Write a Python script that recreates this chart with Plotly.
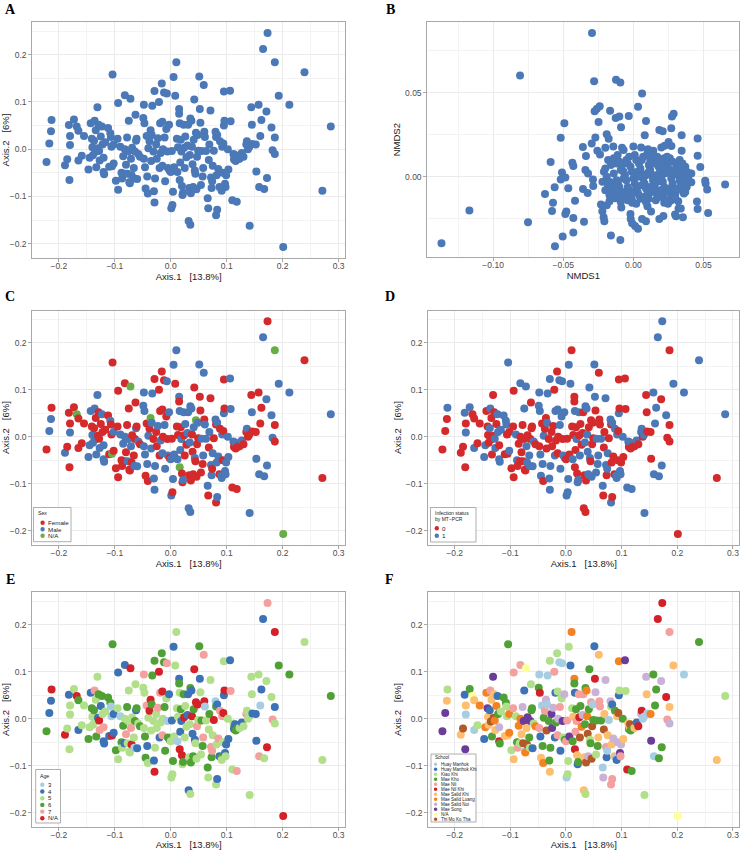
import plotly.graph_objects as go

W, H = 741, 850
FONT = "Liberation Sans, Arial, sans-serif"

# ---------------- PCoA coordinates (panels A, C, D, E, F) ----------------
pc1 = [-0.222,-0.217,-0.214,-0.213,-0.189,-0.185,-0.181,-0.182,-0.180,-0.180,
       -0.173,-0.168,-0.165,-0.165,-0.159,-0.155,-0.147,-0.145,-0.143,-0.141,
       -0.140,-0.139,-0.137,-0.136,-0.135,-0.134,-0.133,-0.131,-0.130,-0.129,
       -0.128,-0.127,-0.125,-0.123,-0.122,-0.120,-0.120,-0.119,-0.117,-0.112,
       -0.110,-0.108,-0.107,-0.106,-0.105,-0.104,-0.102,-0.102,-0.098,-0.095,
       -0.094,-0.094,-0.090,-0.088,-0.087,-0.085,-0.083,-0.082,-0.082,-0.080,
       -0.078,-0.077,-0.076,-0.075,-0.074,-0.073,-0.072,-0.071,-0.070,-0.069,
       -0.066,-0.065,-0.064,-0.063,-0.062,-0.061,-0.060,-0.058,-0.055,-0.049,
       -0.048,-0.048,-0.047,-0.046,-0.045,-0.043,-0.042,-0.041,-0.040,-0.038,
       -0.036,-0.035,-0.034,-0.033,-0.031,-0.030,-0.029,-0.029,-0.028,-0.026,
       -0.025,-0.023,-0.021,-0.020,-0.019,-0.018,-0.016,-0.015,-0.015,-0.014,
       -0.012,-0.011,-0.010,-0.008,-0.007,-0.006,-0.005,-0.003,-0.002,0.000,
       0.001,0.002,0.003,0.005,0.004,0.006,0.008,0.010,0.011,0.012,
       0.013,0.015,0.015,0.016,0.016,0.017,0.018,0.019,0.020,0.021,
       0.022,0.023,0.024,0.025,0.026,0.028,0.030,0.031,0.032,0.033,
       0.034,0.035,0.035,0.036,0.037,0.038,0.039,0.040,0.041,0.042,
       0.043,0.044,0.045,0.046,0.047,0.048,0.049,0.051,0.052,0.053,
       0.054,0.055,0.057,0.058,0.059,0.060,0.061,0.063,0.066,0.067,
       0.068,0.069,0.071,0.072,0.073,0.074,0.075,0.077,0.080,0.081,
       0.081,0.082,0.083,0.083,0.085,0.087,0.088,0.090,0.091,0.092,
       0.093,0.094,0.095,0.095,0.096,0.097,0.098,0.099,0.102,0.103,
       0.106,0.107,0.110,0.112,0.113,0.114,0.115,0.116,0.118,0.120,
       0.123,0.127,0.130,0.135,0.136,0.138,0.140,0.141,0.144,0.145,
       0.146,0.152,0.153,0.157,0.158,0.160,0.162,0.165,0.167,0.171,
       0.172,0.173,0.180,0.182,0.186,0.186,0.186,0.193,0.201,0.212,
       0.239,0.271,0.286]

pc2 = [-0.027,0.012,0.038,0.062,-0.034,-0.021,-0.065,0.051,0.009,0.028,
       0.063,0.048,0.039,-0.024,-0.014,0.028,-0.043,-0.018,0.055,0.022,
       0.004,-0.013,0.018,0.060,-0.006,0.040,-0.038,0.089,0.002,0.052,
       -0.004,-0.024,0.027,0.048,0.010,-0.018,-0.048,-0.053,0.015,0.045,
       -0.037,0.034,0.026,0.005,-0.036,0.158,0.010,-0.030,-0.067,0.022,
       0.098,-0.086,0.005,-0.050,-0.062,-0.015,-0.052,0.114,0.000,-0.033,
       0.025,-0.052,-0.005,0.060,-0.070,-0.072,0.107,-0.020,-0.055,0.003,
       -0.040,-0.062,-0.005,0.073,0.018,0.022,-0.063,-0.010,-0.016,0.066,
       0.094,-0.020,0.055,-0.038,-0.083,0.028,-0.058,-0.094,0.002,0.017,
       0.040,-0.025,0.030,0.092,-0.005,-0.089,0.123,-0.113,-0.062,0.010,
       -0.020,0.023,0.100,-0.040,0.055,-0.008,0.139,0.058,-0.035,0.000,
       0.120,0.025,-0.068,0.043,0.118,-0.005,-0.040,0.052,-0.045,-0.048,
       -0.125,-0.004,-0.118,0.153,-0.090,-0.038,0.113,0.184,0.022,-0.048,
       0.004,0.085,0.075,0.055,-0.065,-0.028,0.020,-0.005,-0.078,-0.097,
       -0.092,0.052,0.003,-0.040,0.027,-0.017,0.008,0.052,-0.152,-0.082,
       -0.012,0.065,-0.160,-0.093,0.060,0.005,-0.032,-0.080,0.020,0.105,
       -0.045,-0.052,0.035,-0.085,-0.016,0.030,-0.003,0.154,0.085,0.056,
       -0.076,-0.004,-0.058,-0.040,0.136,0.037,0.026,-0.004,-0.104,-0.125,
       -0.023,0.010,0.082,-0.060,-0.082,-0.068,-0.035,-0.003,0.037,0.026,
       -0.140,-0.055,0.030,-0.128,-0.042,-0.080,0.017,-0.083,-0.088,0.005,
       -0.050,0.012,0.122,0.050,0.060,-0.073,-0.080,-0.055,0.000,-0.043,
       0.124,0.059,-0.108,-0.010,-0.022,-0.017,-0.012,-0.025,-0.111,-0.021,
       -0.020,-0.008,-0.016,0.010,0.017,0.000,0.004,-0.162,0.089,0.052,
       0.011,0.010,-0.047,0.094,-0.080,0.028,0.062,0.212,-0.084,0.080,
       -0.061,0.246,0.046,-0.002,0.184,0.025,-0.010,0.113,-0.207,0.094,
       0.163,-0.088,0.048]

sex = ("F M M F M F F F M F  F N F F F F M M M F  M M F M M F M M F F  "
       "F M F M F M M M F F  F M F F N F M F F F  F F M F F M F F M F  "
       "F M M F F F N M F F  F M F F M F M M F M  M M M M F F M F M F  "
       "N M M M F M F M M F  F M F F F M F F M F  F M M F M F M M F M  "
       "M F F M M M F M F M  F M F M N M F M F F  M M F F M F M M M F  "
       "M M M F M F F F M F  M F N F F M F M F F  F M F M M F M M M F  "
       "F M F M M F M F M F  F M M M M F F M M M  F F F M F M M M M M  "
       "M M F M F F M F F F  F M F F M F F M F M  F F M F M F F M M M  "
       "M F M M N F F M N M  F F M").split()

infection = ("0 0 0 1 0 0 0 1 1 0  1 0 0 1 0 0 1 1 0 0  0 0 1 1 0 0 0 0 0 0  "
             "1 1 0 1 1 0 1 1 1 1  0 1 1 0 0 1 0 1 0 0  0 0 1 1 0 0 0 1 0 0  "
             "0 0 0 1 0 0 1 1 1 0  1 1 0 0 0 0 1 1 0 1  1 0 1 1 1 0 1 0 1 0  "
             "0 0 1 1 0 1 1 1 1 0  0 0 0 1 1 0 0 1 0 0  1 1 1 1 1 0 1 1 1 0  "
             "1 0 1 1 1 0 1 0 0 1  0 0 0 1 0 0 0 1 0 1  1 1 0 1 0 0 0 0 0 0  "
             "1 1 0 0 1 1 1 1 0 1  1 0 0 1 0 0 0 1 1 0  1 1 1 1 0 0 0 1 1 0  "
             "0 0 1 1 0 1 1 0 1 0  1 0 1 0 0 0 1 1 1 1  0 0 0 1 0 1 1 0 1 0  "
             "0 0 1 1 0 0 1 0 1 0  0 1 0 1 1 0 1 1 0 0  0 0 0 1 1 1 1 1 1 0  "
             "1 1 1 0 0 0 0 1 0 1  1 0 1").split()

age = ("6 4 4 NA NA 5 5 4 5 5  5 NA 6 4 5 5 6 5 4 6  5 5 6 7 5 5 6 5 4 6  "
       "NA 7 4 6 5 7 4 4 5 6  4 6 3 3 NA 6 4 4 6 5  4 5 3 6 5 6 4 4 5 7  "
       "6 5 5 5 5 5 NA 7 NA 5  5 3 6 5 4 6 4 5 6 5  7 5 5 6 6 7 4 5 5 NA  "
       "NA 5 6 6 5 4 6 NA 5 5  5 7 NA 4 7 5 6 NA 7 5  6 6 6 5 7 3 6 4 6 5  "
       "5 4 5 4 6 5 5 5 5 3  5 4 6 5 NA 4 6 4 NA 5  6 6 NA 5 5 5 4 4 4 5  "
       "5 6 5 6 4 NA 4 6 6 NA  4 5 NA 5 7 NA 5 6 4 5  5 6 6 7 7 NA 3 5 6 5  "
       "5 6 5 7 6 7 5 NA 3 6  5 5 4 4 7 4 7 6 5 7  5 NA 5 4 NA 4 5 4 5 4  "
       "4 7 5 5 4 4 4 6 7 6  5 4 5 7 5 5 5 5 5 5  4 4 4 5 7 3 4 4 5 5  "
       "NA 7 5 7 NA 4 5 6 NA 6  5 5 6").split()

school = ("MS MS MSK KK MSK TMK MS HMK HM MSK  MK NA MSK HM KK MSL HMK MSL MSL MS  "
          "MSK MSK HMK MN TMK MSK MK MS TMK MSK  MSL MSK MSL HMK MK MSN MNK MK KK MK  "
          "MSK MK KK KK MSK MK MSL MSL KK MN  MN MSK KK MK MN MSL KK MN MSL MSK  "
          "MSN TMK MS HMK HM MSL NA MSK TMK MS  MK KK MS KK MK MK HMK KK MSL MK  "
          "HM MN MNK HMK MSK HM MK MSL MK MN  MSN TMK HM HM MK MK KK MSK MK MS  "
          "MS MSN MN HMK HMK MK KK KK MN MSN  HM MN HMK KK HM MS KK MSN MK MN  "
          "HM MN KK KK KK MS HMK MSL KK MK  MSK MSL MK HMK MNK MN MK MN MSK HMK  "
          "MK MN MNK TMK MK MSL MSN MN MSK MSK  MK MK KK TMK MSL MSL TMK MSN MK MK  "
          "KK MK MN TMK TMK HM MK HMK MNK MSN  KK MK MK MSK MSK MN MN MK HM MSN  "
          "TMK MSK MSN MN HMK HM MSK HM MSN KK  MN MSK HMK MN MSN MSK MK HM HMK MSK  "
          "MSN TMK MSL HMK KK MS MN MSN MK MSK  MS KK MNK MSK MK MSK TMK MK MK MK  "
          "MSK HMK MNK MSN MNK HM HM KK MSN MSK  HM MSL MS MK HM MK MK MNK MK MSN  "
          "MK MNK MNK MN MN MSK MSN MSK NA HM  MK MSK KK").split()

# ---------------- NMDS coordinates (panel B) ----------------
nmds1 = [-0.0295,-0.0808,-0.028,-0.0124,-0.0093,0.0062,0.0033,-0.024,-0.026,-0.0276,
         -0.0166,-0.0248,-0.0126,-0.010,-0.0033,-0.0088,0.009,0.0287,0.0275,0.027,
         -0.0492,-0.0518,-0.0271,0.0081,0.0185,0.0209,0.0344,0.0458,-0.019,-0.0176,
         -0.0297,-0.036,-0.0338,-0.0257,-0.0238,-0.020,-0.0143,-0.0081,-0.007,-0.0112,
         0.000,0.0055,0.0104,0.0142,0.0199,0.0223,0.0251,0.0271,0.0344,0.0458,
         -0.059,-0.0435,-0.0428,-0.0342,-0.0323,-0.0509,-0.0518,-0.0485,-0.0561,-0.0464,
         -0.063,-0.0573,-0.058,-0.0478,-0.0485,-0.0416,-0.0428,-0.0352,-0.0359,-0.0326,
         -0.0288,-0.0286,-0.0231,-0.0221,-0.0212,-0.0207,-0.0428,-0.0504,-0.0559,-0.016,
         -0.0093,-0.1368,-0.1169,-0.0751,0.0654,0.0533,0.0526,0.0512,0.0515,0.0453,
         0.0458,0.0304,0.0297,0.0353,0.0322,0.0338,0.0214,0.0185,0.009,0.0062,
         0.0033,0.0012,-0.0009,-0.0019,-0.0021,0.0126,0.010,0.0247,0.022,0.0268,
         0.0320,-0.019,-0.017,-0.0086,-0.013,-0.0009,0.0413,0.0477,0.0413,
         -0.021,-0.019,-0.017,-0.015,-0.014,-0.012,-0.011,-0.010,-0.008,-0.007,
         -0.006,-0.005,-0.004,-0.003,-0.002,-0.001,0.000,0.001,0.002,0.003,
         0.004,0.005,0.006,0.007,0.008,0.009,0.010,0.011,0.012,0.013,
         0.014,0.015,0.016,0.017,0.018,0.019,0.020,0.021,0.022,0.023,
         0.024,0.025,0.026,0.027,0.028,0.029,0.030,0.031,0.032,0.033,
         0.034,0.035,0.036,0.037,0.038,0.026,0.031,-0.005,-0.003,0.002,
         0.007,0.012,0.017,0.022,-0.012,-0.008,-0.016,-0.020,-0.017,-0.013,
         -0.008,-0.002,0.005,0.011,0.016,0.021,0.027,-0.022,-0.009,0.015,
         0.009,0.003,-0.001,0.019,0.029,0.034,0.036,0.039,0.013,0.006,
         -0.018,-0.014,-0.010,-0.004,0.001,0.006,0.010,0.014,0.019,0.024,
         0.028,0.033,0.037,0.040,-0.020,-0.018,-0.015,-0.011,-0.006,-0.001,
         0.004,0.008,0.012,0.017,0.022,0.027,0.032,0.037,0.030,0.024,
         0.018,0.009,0.002,-0.004,-0.009,-0.013,-0.007,0.003,0.011,0.016,
         0.021,0.026,0.033,0.038,0.035]

nmds2 = [0.0857,0.0604,0.057,0.0578,0.0562,0.0496,0.0418,0.042,0.0406,0.039,
         0.0394,0.0327,0.035,0.036,0.0363,0.0295,0.0333,0.0376,0.036,0.029,
         0.0319,0.0233,0.0235,0.0247,0.0279,0.0271,0.0247,0.0229,0.0253,0.0227,
         0.0199,0.0177,0.0124,0.0155,0.0133,0.0173,0.0181,0.0173,0.016,0.013,
         0.0181,0.0175,0.0165,0.0155,0.0175,0.0185,0.0207,0.0183,0.0155,0.0125,
         0.0088,0.0084,0.0064,0.004,0.002,0.0026,-0.0016,-0.0004,-0.0062,-0.0068,
         -0.0102,-0.0155,-0.0203,-0.0207,-0.0221,-0.0143,-0.0245,-0.0267,-0.0072,-0.0096,
         -0.0016,-0.0054,-0.0165,-0.0205,-0.0241,-0.0265,-0.0331,-0.0355,-0.0414,-0.0349,
         -0.0376,-0.0396,-0.0201,-0.0271,-0.0046,-0.0215,-0.0076,-0.0024,-0.004,-0.0147,
         -0.0191,-0.0235,-0.0224,-0.0241,-0.0189,-0.0189,-0.0233,-0.0251,-0.0265,-0.0251,
         -0.0309,-0.0293,-0.0277,-0.0251,-0.0221,-0.0207,-0.0175,-0.0161,-0.0155,-0.0141,
         -0.0145,-0.0169,-0.0145,-0.0183,-0.0127,-0.0155,0.002,0.0058,-0.0032,
         0.003,0.000,-0.003,-0.005,0.002,-0.002,-0.004,-0.006,-0.009,0.003,
         0.001,-0.002,-0.006,-0.008,0.006,0.003,-0.001,-0.004,-0.007,-0.009,
         0.008,0.005,0.002,-0.001,-0.004,-0.007,-0.010,0.007,0.004,0.001,
         -0.002,-0.005,-0.008,-0.011,0.006,0.003,0.000,-0.003,-0.006,-0.009,
         0.008,0.005,0.002,-0.001,-0.004,-0.007,-0.010,0.004,0.001,-0.002,
         -0.005,-0.008,0.000,-0.003,-0.006,0.011,0.007,0.010,0.012,0.010,
         0.012,0.010,0.012,0.011,0.008,0.007,0.007,-0.008,-0.011,-0.009,
         -0.012,-0.012,-0.013,-0.013,-0.014,-0.012,-0.011,-0.003,0.004,0.008,
         0.001,0.003,-0.010,-0.008,0.002,0.003,-0.010,-0.001,-0.009,-0.005,
         0.010,0.011,0.009,0.008,0.013,0.010,0.014,0.012,0.009,0.012,
         0.009,0.010,0.006,0.002,0.005,-0.005,-0.008,-0.010,-0.011,-0.014,
         -0.011,-0.012,-0.006,-0.003,0.002,0.004,-0.007,-0.009,-0.013,-0.014,
         -0.012,-0.015,-0.016,-0.014,-0.015,-0.004,-0.001,0.000,0.003,0.001,
         0.006,-0.007,0.006,0.003,0.008]

# ---------------- legend labels ----------------
sex_levels = ["F", "M", "N"]
sex_labels = ["Female", "Male", "N/A"]
inf_levels = ["0", "1"]
inf_labels = ["0", "1"]
age_levels = ["3", "4", "5", "6", "7", "NA"]
age_labels = ["3", "4", "5", "6", "7", "N/A"]
school_levels = ["HM", "HMK", "KK", "MK", "MN", "MNK", "MSK", "MSL", "MSN", "MS", "NA", "TMK"]
school_labels = ["Huay Manhok", "Huay Manhok Khi", "Kiao Khi", "Mae Kho", "Mae Nil",
                 "Mae Nil Khi", "Mae Salid Khi", "Mae Salid Luang", "Mae Salid Noi",
                 "Mae Song", "N/A", "Thi Mo Ko Tha"]

# ---------------- styles ----------------
BLUE = "#4B78B6"
RED = "#D42A2C"
sex_cols = {"F": RED, "M": BLUE, "N": "#68AE47"}
inf_cols = {"0": RED, "1": BLUE}
age_cols = {"3": "#A6CEE3", "4": "#3D72B6", "5": "#B2DF8A", "6": "#4FA035",
            "7": "#F4A09E", "NA": "#D42027"}
school_cols = {"HM": "#A6CEE3", "HMK": "#3D72B6", "KK": "#B2DF8A", "MK": "#4FA035",
               "MN": "#F4A09E", "MNK": "#D42027", "MSK": "#FDBF6F", "MSL": "#F58220",
               "MSN": "#CAB2D6", "MS": "#6A3D9A", "NA": "#FFFF99", "TMK": "#B15928"}

n = min(len(pc1), len(pc2), len(sex), len(infection), len(age), len(school))
m = min(len(nmds1), len(nmds2))


def pxx(p):
    return p / W


def pxy(p):
    return 1 - p / H


def expand(vals, f=0.05):
    lo, hi = min(vals), max(vals)
    d = (hi - lo) * f
    return [lo - d, hi + d]


FRAME = "#A8A8A8"
# panel frames in page pixels (x0, x1), (top, bottom)
panels = {
    1: dict(x=(32.3, 345.0), y=(22.3, 257.7)),
    2: dict(x=(427.3, 739.3), y=(22.3, 257.0)),
    3: dict(x=(32.3, 345.0), y=(310.5, 544.7)),
    4: dict(x=(428.3, 739.3), y=(310.5, 544.7)),
    5: dict(x=(32.3, 345.0), y=(592.3, 826.7)),
    6: dict(x=(428.3, 739.3), y=(592.3, 826.7)),
}

fig = go.Figure()
layout = dict(width=W, height=H, margin=dict(l=0, r=0, t=0, b=0),
              paper_bgcolor="white", plot_bgcolor="white", showlegend=False,
              font=dict(family=FONT))

x_pc = pc1[:n]
y_pc = pc2[:n]
panel_data = {
    1: (x_pc, y_pc, [BLUE] * n),
    2: (nmds1[:m], nmds2[:m], [BLUE] * m),
    3: (x_pc, y_pc, [sex_cols[s] for s in sex[:n]]),
    4: (x_pc, y_pc, [inf_cols[s] for s in infection[:n]]),
    5: (x_pc, y_pc, [age_cols[s] for s in age[:n]]),
    6: (x_pc, y_pc, [school_cols[s] for s in school[:n]]),
}

AX1 = "Axis.1\u00a0\u00a0\u00a0[13.8%]"
AX2 = "Axis.2\u00a0\u00a0\u00a0[6%]"

for i in range(1, 7):
    xs, ys, cols = panel_data[i]
    sfx = "" if i == 1 else str(i)
    fig.add_trace(go.Scatter(x=xs, y=ys, mode="markers", xaxis="x" + sfx, yaxis="y" + sfx,
                             marker=dict(size=8, color=cols, line=dict(width=0)),
                             hoverinfo="x+y"))
    p = panels[i]
    if i == 2:
        xd, xminor, xfmt = 0.05, 0.025, ".2f"
        yd, yminor, yfmt = 0.05, 0.025, ".2f"
        xt, yt = "NMDS1", "NMDS2"
    else:
        xd, xminor, xfmt = 0.1, 0.05, ".1f"
        yd, yminor, yfmt = 0.1, 0.05, ".1f"
        xt, yt = AX1, AX2
    common = dict(showline=True, mirror=True, linecolor=FRAME, linewidth=1,
                  ticks="outside", ticklen=3, tickcolor=FRAME, tickwidth=1,
                  showgrid=True, gridcolor="#EBEBEB", gridwidth=1, zeroline=False,
                  tickfont=dict(size=8.5, color="#4D4D4D", family=FONT),
                  automargin=False, tick0=0)
    layout["xaxis" + sfx] = dict(common, domain=[pxx(p["x"][0]), pxx(p["x"][1])],
                                 anchor="y" + sfx, range=expand(xs), dtick=xd,
                                 tickformat=xfmt, ticklabelstandoff=-3,
                                 minor=dict(dtick=xminor, tick0=0, showgrid=True,
                                            gridcolor="#F3F3F3", gridwidth=0.6, ticks=""),
                                 title=dict(text=xt, standoff=0,
                                            font=dict(size=9.5, color="#1A1A1A", family=FONT)))
    layout["yaxis" + sfx] = dict(common, domain=[pxy(p["y"][1]), pxy(p["y"][0])],
                                 anchor="x" + sfx, range=expand(ys), dtick=yd,
                                 tickformat=yfmt,
                                 minor=dict(dtick=yminor, tick0=0, showgrid=True,
                                            gridcolor="#F3F3F3", gridwidth=0.6, ticks=""),
                                 title=dict(text=yt, standoff=2,
                                            font=dict(size=9.5, color="#1A1A1A", family=FONT)))

shapes = []
annos = []

# panel letters (page pixel centres)
for lab, cx, cy in [("A", 10, 9), ("B", 390, 9), ("C", 10, 296.5), ("D", 390, 297),
                    ("E", 10.5, 579), ("F", 389.5, 579)]:
    annos.append(dict(text="<b>%s</b>" % lab, x=pxx(cx), y=pxy(cy), xref="paper", yref="paper",
                      xanchor="center", yanchor="middle", showarrow=False,
                      font=dict(size=14, color="black",
                                family="Liberation Serif, Times New Roman, serif")))


def add_legend(box, titles, title_x, title_y0, title_dy, tfs, labels, levels, colmap,
               dot_x, text_x, y0, dy, fs, dot_d):
    x0, y0b, x1, y1b = box
    shapes.append(dict(type="rect", xref="paper", yref="paper", x0=pxx(x0), x1=pxx(x1),
                       y0=pxy(y1b), y1=pxy(y0b), fillcolor="white",
                       line=dict(color="#9A9A9A", width=0.8), layer="above"))
    for k, t in enumerate(titles):
        annos.append(dict(text=t, x=pxx(title_x), y=pxy(title_y0 + k * title_dy),
                          xref="paper", yref="paper", xanchor="left", yanchor="middle",
                          showarrow=False, borderpad=0,
                          font=dict(size=tfs, color="#1A1A1A", family=FONT)))
    r = dot_d / 2.0
    for j, (lab, lev) in enumerate(zip(labels, levels)):
        cy = y0 + dy * j
        shapes.append(dict(type="circle", xref="paper", yref="paper",
                           x0=pxx(dot_x - r), x1=pxx(dot_x + r),
                           y0=pxy(cy + r), y1=pxy(cy - r),
                           fillcolor=colmap[lev], line=dict(width=0), layer="above"))
        annos.append(dict(text=lab, x=pxx(text_x), y=pxy(cy), xref="paper", yref="paper",
                          xanchor="left", yanchor="middle", showarrow=False, borderpad=0,
                          font=dict(size=fs, color="#1A1A1A", family=FONT)))


add_legend((33.5, 507.5, 71, 541.7), ["Sex"], 37, 513.3, 0, 5.2,
           sex_labels, sex_levels, sex_cols, 42.6, 46.5, 522.7, 6.5, 6.2, 4.4)
add_legend((430.5, 507.5, 476, 542), ["Infection status", "by MT\u2212PCR"], 433.5, 513.3, 6.0, 5.0,
           inf_labels, inf_levels, inf_cols, 436.8, 441.3, 528.3, 7.4, 6.2, 4.4)
add_legend((35.7, 769.5, 60.5, 823), ["Age"], 38.5, 775.5, 0, 5.2,
           age_labels, age_levels, age_cols, 42.3, 47.0, 784.8, 6.7, 6.0, 4.4)
add_legend((431, 754, 476, 822), ["School"], 433.5, 757.6, 0, 4.6,
           school_labels, school_levels, school_cols, 435.6, 439.6, 764.2, 5.0, 4.5, 3.6)

layout["shapes"] = shapes
layout["annotations"] = annos
fig.update_layout(**layout)
fig.write_html("out.html",
               config={"displayModeBar": False},
               post_script="document.body.style.margin='0px';"
                           "document.body.style.overflow='hidden';")
